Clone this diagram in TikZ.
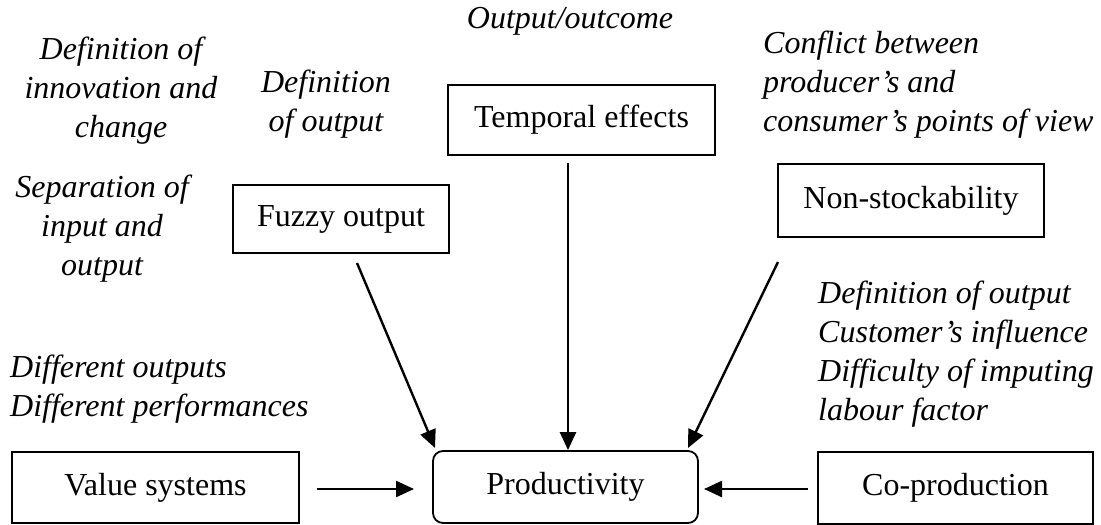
\documentclass[tikz,border=0pt]{standalone}
\usepackage{fontspec}
\setmainfont{Liberation Serif}
\usetikzlibrary{arrows.meta}
\begin{document}
\begin{tikzpicture}[x=1pt,y=-1pt,
  box/.style={draw, line width=1.8pt, inner sep=0pt, font=\fontsize{32}{40}\selectfont},
  lbl/.style={inner sep=0pt, font=\fontsize{32}{39}\selectfont\itshape},
  conn/.style={line width=2.4pt, -{Triangle[length=18pt,width=16pt]}}]
\useasboundingbox (0,0) rectangle (1101,525);

% boxes
\node[box, minimum width=267pt, minimum height=70pt] (temp) at (581.5,120) {Temporal effects};
\node[box, minimum width=216pt, minimum height=68pt] (fuzzy) at (341,219) {Fuzzy output};
\node[box, minimum width=266pt, minimum height=73pt] (nonst) at (911,200.5) {Non-stockability};
\node[box, minimum width=287pt, minimum height=71pt] (value) at (155.5,487.5) {Value systems};
\node[box, rounded corners=10pt, minimum width=265pt, minimum height=72pt] (prod) at (565.5,487) {Productivity};
\node[box, minimum width=275pt, minimum height=72pt] (coprod) at (955.5,488) {Co-production};

% labels
\node[lbl] (l-outcome) at (570,21) {Output/outcome};
\node[lbl, align=center] (l-innov) at (121,91) {Definition of\\innovation and\\change};
\node[lbl, align=center] (l-defout) at (326,104) {Definition\\of output};
\node[lbl, align=left, anchor=west] (l-conflict) at (763,85) {Conflict between\\producer’s and\\consumer’s points of view};
\node[lbl, align=center] (l-separ) at (102,229) {Separation of\\input and\\output};
\node[lbl, align=left, anchor=west] (l-custom) at (818,354) {Definition of output\\Customer’s influence\\Difficulty of imputing\\labour factor};
\node[lbl, align=left, anchor=west] (l-diff) at (10,389) {Different outputs\\Different performances};

% connector start/end points
\coordinate (ts) at (568,163);
\coordinate (fs) at (357,263);
\coordinate (fe) at (435,448);
\coordinate (ns) at (778,262);
\coordinate (ne) at (688,448);
\coordinate (vs) at (317,489);
\coordinate (ve) at (414,489);
\coordinate (cs) at (808,489);
\coordinate (ce) at (704,489);

\draw[conn] (ts) -- (ts |- prod.north);
\draw[conn] (fs) -- (fe);
\draw[conn] (ns) -- (ne);
\draw[conn] (vs) -- (ve);
\draw[conn] (cs) -- (ce);
\end{tikzpicture}
\end{document}
